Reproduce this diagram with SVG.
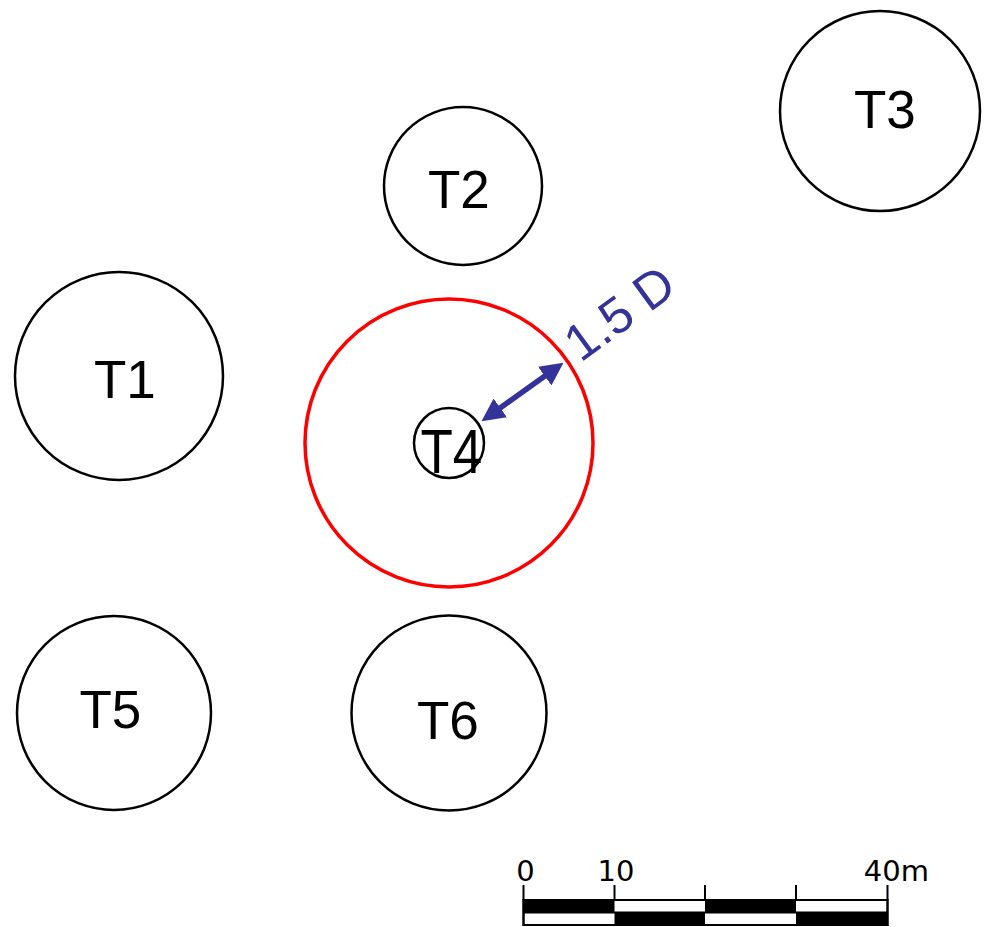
<svg xmlns="http://www.w3.org/2000/svg" width="987" height="927" viewBox="0 0 987 927">
<defs>
<style>
.turb{fill:none;stroke:#000;stroke-width:2.5}
.lbl{font-family:"Liberation Sans",Arial,sans-serif;font-size:53px;fill:#000}
.zone{fill:none;stroke:#f00;stroke-width:3.5}
.dim{stroke:#333399;stroke-width:5.5;fill:none}
.sc{font-family:"DejaVu Sans",Verdana,sans-serif;font-size:29px;fill:#000}
.bar{stroke:#000;stroke-width:2}
</style>
<marker id="ah" viewBox="0 0 23 23" refX="4" refY="11.5" markerWidth="23" markerHeight="23" markerUnits="userSpaceOnUse" orient="auto-start-reverse">
<path d="M0,0 L23,11.5 L0,23 z" fill="#333399"/>
</marker>
</defs>
<rect width="987" height="927" fill="#fff"/>
<g id="T1"><circle class="turb" cx="119" cy="376" r="104"/><text class="lbl" x="94" y="398">T1</text></g>
<g id="T2"><circle class="turb" cx="463" cy="186" r="79"/><text class="lbl" x="428" y="208">T2</text></g>
<g id="T3"><circle class="turb" cx="880" cy="111" r="100"/><text class="lbl" x="854" y="127.5">T3</text></g>
<g id="T5"><circle class="turb" cx="114" cy="713" r="97"/><text class="lbl" x="79.5" y="728">T5</text></g>
<g id="T6"><circle class="turb" cx="449" cy="713" r="97.5"/><text class="lbl" x="417" y="739">T6</text></g>
<g id="zone"><circle class="zone" cx="449" cy="443" r="144"/></g>
<g id="T4"><circle class="turb" cx="449" cy="443" r="35"/><text class="lbl" transform="translate(420.5,473) scale(1,1.2)" x="0" y="0">T4</text></g>
<g id="connectors">
<line class="dim" x1="497" y1="410.2" x2="548" y2="373.8" marker-start="url(#ah)" marker-end="url(#ah)"/>
</g>
<g id="dim-label"><text transform="translate(580.5,363) rotate(-36)" x="0" y="0" font-family="Liberation Sans, Arial, sans-serif" font-size="51" fill="#333399">1.5 D</text></g>
<g id="scalebar">
<rect x="523.5" y="900" width="364" height="25" fill="#fff" class="bar"/>
<rect x="523.5" y="900" width="91" height="12.5" fill="#000"/>
<rect x="705" y="900" width="91" height="12.5" fill="#000"/>
<rect x="614.5" y="912.5" width="90.5" height="12.5" fill="#000"/>
<rect x="796" y="912.5" width="91.5" height="12.5" fill="#000"/>
<rect x="523.5" y="900" width="364" height="25" fill="none" class="bar"/>
<line class="bar" x1="523.5" y1="912.5" x2="887.5" y2="912.5"/>
<line class="bar" x1="523.5" y1="885" x2="523.5" y2="900"/>
<line class="bar" x1="614.5" y1="885" x2="614.5" y2="900"/>
<line class="bar" x1="705" y1="885" x2="705" y2="900"/>
<line class="bar" x1="796" y1="885" x2="796" y2="900"/>
<line class="bar" x1="887.5" y1="885" x2="887.5" y2="900"/>
<text class="sc" x="525.5" y="880.5" text-anchor="middle">0</text>
<text class="sc" x="616" y="880.5" text-anchor="middle">10</text>
<text class="sc" x="929" y="880.5" text-anchor="end">40m</text>
</g>
</svg>
